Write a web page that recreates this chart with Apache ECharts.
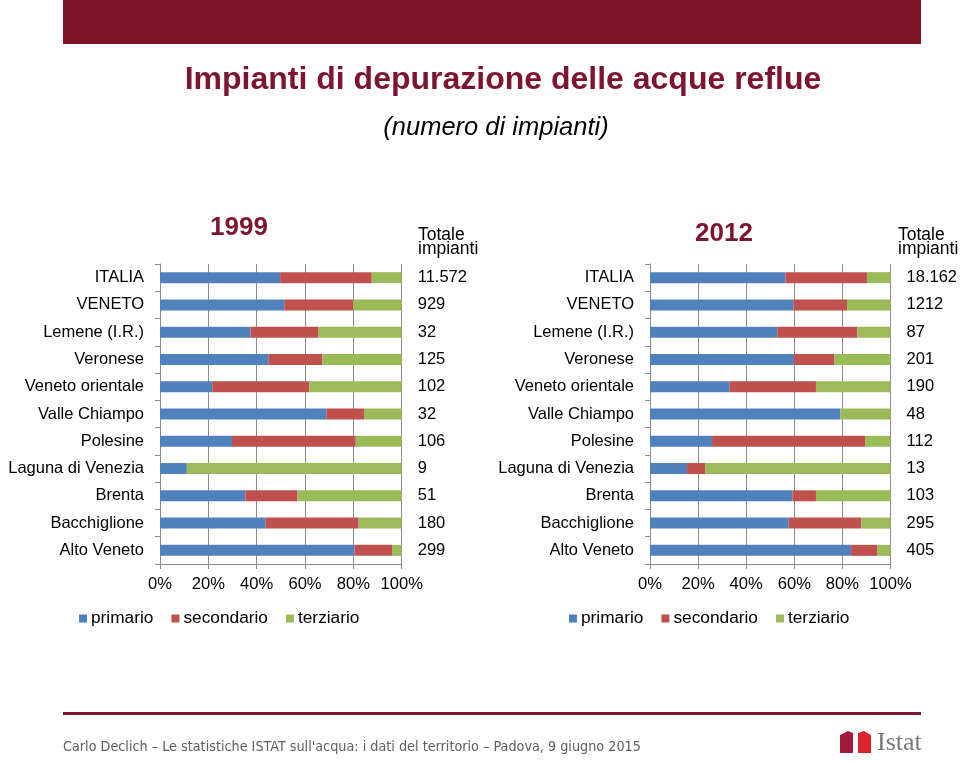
<!DOCTYPE html>
<html>
<head>
<meta charset="utf-8">
<script src="https://cdn.jsdelivr.net/npm/echarts@6/dist/echarts.min.js"></script>
<style>
html,body{margin:0;padding:0;background:#fff;}
#chart{width:960px;height:761px;}
</style>
</head>
<body>
<div id="chart"></div>
<script>
// ---- data ----
var categories = ['ITALIA','VENETO','Lemene (I.R.)','Veronese','Veneto orientale','Valle Chiampo','Polesine','Laguna di Venezia','Brenta','Bacchiglione','Alto Veneto'];
var seriesNames = ['primario','secondario','terziario'];
// percent shares, 1999
var primario1999   = [49.7,51.4,37.5,44.8,21.6,68.8,29.8,11.1,35.3,43.7,80.4];
var secondario1999 = [37.9,28.5,28.1,22.4,40.2,15.6,51.2,0.0,21.6,38.5,15.6];
var terziario1999  = [12.4,20.1,34.4,32.8,38.2,15.6,19.0,88.9,43.1,17.8,4.0];
// percent shares, 2012
var primario2012   = [56.3,59.6,52.9,59.9,33.1,79.2,25.8,15.4,59.2,57.7,83.6];
var secondario2012 = [33.9,22.3,33.3,16.8,35.9,0.0,63.6,7.7,9.8,30.2,11.0];
var terziario2012  = [9.8,18.1,13.8,23.3,31.0,20.8,10.6,76.9,31.0,12.1,5.4];
// totals (labels)
var totale1999 = ['11.572','929','32','125','102','32','106','9','51','180','299'];
var totale2012 = ['18.162','1212','87','201','190','48','112','13','103','295','405'];
var xTicks = [0,20,40,60,80,100];

// ---- styles ----
var colors = ['#4F81BD','#C0504D','#9BBB59'];
var FONT = '"Liberation Sans", Arial, sans-serif';
var gridColor = '#8c8c8c';
var darkRed = '#7d1530';

function xAxis(gi){
  return {
    type:'value', gridIndex:gi, min:xTicks[0], max:xTicks[xTicks.length-1], interval:xTicks[1]-xTicks[0],
    axisLine:{show:true,lineStyle:{color:gridColor,width:1}},
    axisTick:{show:true,length:5,lineStyle:{color:gridColor}},
    splitLine:{show:true,lineStyle:{color:gridColor,width:1}},
    axisLabel:{formatter:'{value}%',color:'#000',fontFamily:FONT,fontSize:16.6,margin:12}
  };
}
function yAxisCat(gi){
  return {
    type:'category', gridIndex:gi, data:categories, inverse:true,
    axisLine:{show:true,lineStyle:{color:gridColor}},
    axisTick:{show:true,length:5,inside:false,lineStyle:{color:gridColor}},
    axisLabel:{color:'#000',fontFamily:FONT,fontSize:16.5,margin:16}
  };
}
function yAxisTot(gi,tot){
  return {
    type:'category', gridIndex:gi, data:tot, inverse:true, position:'right',
    axisLine:{show:false}, axisTick:{show:false},
    axisLabel:{color:'#000',fontFamily:FONT,fontSize:16.5,margin:16,align:'left'}
  };
}
function bars(gi,stack,arrs){
  return arrs.map(function(d,i){
    return {
      name:seriesNames[i], type:'bar', stack:stack, xAxisIndex:gi, yAxisIndex:gi*2,
      data:d, barWidth:11, itemStyle:{color:colors[i]}, silent:true
    };
  });
}
function legend(left){
  return {
    left:left, top:605, itemWidth:8, itemHeight:8, itemGap:18, icon:'rect',
    data:seriesNames,
    textStyle:{color:'#000',fontFamily:FONT,fontSize:17.3,padding:[0,0,0,-1]}
  };
}

var chart = echarts.init(document.getElementById('chart'), null, {renderer:'canvas'});
var option = {
  animation:false,
  backgroundColor:'#fff',
  grid:[
    {left:160, top:264, width:241.7, height:300},
    {left:650, top:264, width:241.7, height:300}
  ],
  xAxis:[xAxis(0), xAxis(1)],
  yAxis:[yAxisCat(0), yAxisTot(0,totale1999), yAxisCat(1), yAxisTot(1,totale2012)],
  legend:[legend(74), legend(564)],
  series: bars(0,'a',[primario1999,secondario1999,terziario1999])
          .concat(bars(1,'b',[primario2012,secondario2012,terziario2012])),
  graphic:[
    {type:'rect', shape:{x:63,y:0,width:858,height:44}, style:{fill:'#7f1628'}},
    {type:'text', x:503, y:80, style:{text:'Impianti di depurazione delle acque reflue', fill:darkRed, font:'bold 32px '+FONT, textAlign:'center', textVerticalAlign:'middle'}},
    {type:'text', x:496, y:128, style:{text:'(numero di impianti)', fill:'#000', font:'italic 25.5px '+FONT, textAlign:'center', textVerticalAlign:'middle'}},
    {type:'text', x:239, y:228, style:{text:'1999', fill:darkRed, font:'bold 26px '+FONT, textAlign:'center', textVerticalAlign:'middle'}},
    {type:'text', x:724, y:234, style:{text:'2012', fill:darkRed, font:'bold 26px '+FONT, textAlign:'center', textVerticalAlign:'middle'}},
    {type:'text', x:418, y:228, style:{text:'Totale\nimpianti', fill:'#000', font:'17.5px '+FONT, lineHeight:14, textAlign:'left', textVerticalAlign:'top'}},
    {type:'text', x:898, y:228, style:{text:'Totale\nimpianti', fill:'#000', font:'17.5px '+FONT, lineHeight:14, textAlign:'left', textVerticalAlign:'top'}},
    {type:'rect', shape:{x:63,y:712,width:858,height:3}, style:{fill:'#7a1a30'}},
    {type:'text', x:63, y:747, style:{text:'Carlo Declich \u2013 Le statistiche ISTAT sull\'acqua: i dati del territorio \u2013 Padova, 9 giugno 2015', fill:'#606060', font:'14.25px "Liberation Sans Narrow", "DejaVu Sans Condensed", Arial, sans-serif', textAlign:'left', textVerticalAlign:'middle'}},
    {type:'polygon', shape:{points:[[840,735],[848,731],[853,733],[853,753],[840,753]]}, style:{fill:'#a11c3a'}},
    {type:'polygon', shape:{points:[[858,733],[864,731],[871,735],[871,753],[858,753]]}, style:{fill:'#d9262c'}},
    {type:'text', x:877, y:743, style:{text:'Istat', fill:'#7a7a7a', font:'26px "Liberation Serif", "DejaVu Serif", serif', textAlign:'left', textVerticalAlign:'middle'}}
  ]
};
chart.setOption(option);
</script>
</body>
</html>
